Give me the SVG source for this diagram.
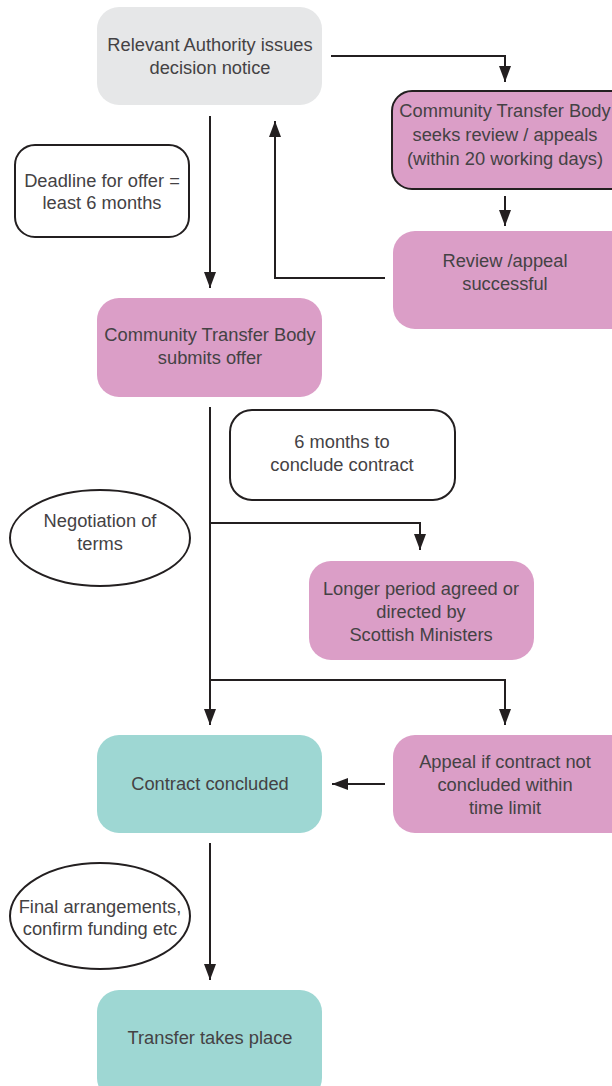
<svg xmlns="http://www.w3.org/2000/svg" width="612" height="1086" viewBox="0 0 612 1086">
<defs>
<marker id="arr" markerWidth="16" markerHeight="12" refX="16" refY="6" viewBox="0 0 16 12" markerUnits="userSpaceOnUse" orient="auto">
<path d="M0,0 L16,6 L0,12 Z" fill="#231f20"/>
</marker>
<style>
text{font-family:"Liberation Sans",Arial,sans-serif;font-size:18.3px;fill:#444244;text-anchor:middle}
.gray{fill:#e6e7e8}
.pink{fill:#db9ec7}
.teal{fill:#9ed7d3}
.out{stroke:#231f20;stroke-width:2}
.note{fill:#fff;stroke:#231f20;stroke-width:2}
.con{fill:none;stroke:#231f20;stroke-width:2}
</style>
</defs>
<rect width="612" height="1086" fill="#fff"/>
<g id="connectors">
<polyline class="con" points="331,56 505,56 505,82" marker-end="url(#arr)"/>
<line class="con" x1="505" y1="196" x2="505" y2="226" marker-end="url(#arr)"/>
<polyline class="con" points="385,278 275,278 275,121" marker-end="url(#arr)"/>
<line class="con" x1="210" y1="116" x2="210" y2="288" marker-end="url(#arr)"/>
<line class="con" x1="210" y1="407" x2="210" y2="725" marker-end="url(#arr)"/>
<polyline class="con" points="210,523 420,523 420,550" marker-end="url(#arr)"/>
<polyline class="con" points="210,680 505,680 505,725" marker-end="url(#arr)"/>
<line class="con" x1="385" y1="784" x2="332" y2="784" marker-end="url(#arr)"/>
<line class="con" x1="210" y1="843" x2="210" y2="980" marker-end="url(#arr)"/>
</g>
<g id="n-decision">
<rect class="gray" x="97" y="7" width="225" height="98" rx="22"/>
<text x="210" y="51">Relevant Authority issues</text>
<text x="210" y="74">decision notice</text>
</g>
<g id="n-review-seek">
<rect class="pink out" x="392" y="91" width="240" height="98" rx="20"/>
<text x="505" y="117">Community Transfer Body</text>
<text x="505" y="141">seeks review / appeals</text>
<text x="505" y="165">(within 20 working days)</text>
</g>
<g id="n-deadline">
<rect class="note" x="15" y="145" width="174" height="92" rx="20"/>
<text x="102" y="187">Deadline for offer =</text>
<text x="102" y="209">least 6 months</text>
</g>
<g id="n-review-success">
<rect class="pink" x="393" y="231" width="240" height="98" rx="22"/>
<text x="505" y="267">Review /appeal</text>
<text x="505" y="290">successful</text>
</g>
<g id="n-offer">
<rect class="pink" x="97" y="298" width="225" height="99" rx="22"/>
<text x="210" y="341">Community Transfer Body</text>
<text x="210" y="364">submits offer</text>
</g>
<g id="n-sixmonths">
<rect class="note" x="230" y="410" width="225" height="90" rx="22"/>
<text x="342" y="448">6 months to</text>
<text x="342" y="471">conclude contract</text>
</g>
<g id="n-negotiation">
<ellipse class="note" cx="100" cy="538" rx="90" ry="48"/>
<text x="100" y="527">Negotiation of</text>
<text x="100" y="550">terms</text>
</g>
<g id="n-longer">
<rect class="pink" x="309" y="561" width="225" height="99" rx="22"/>
<text x="421" y="595">Longer period agreed or</text>
<text x="421" y="618">directed by</text>
<text x="421" y="641">Scottish Ministers</text>
</g>
<g id="n-contract">
<rect class="teal" x="97" y="735" width="225" height="98" rx="22"/>
<text x="210" y="790">Contract concluded</text>
</g>
<g id="n-appeal">
<rect class="pink" x="393" y="735" width="240" height="98" rx="22"/>
<text x="505" y="768">Appeal if contract not</text>
<text x="505" y="791">concluded within</text>
<text x="505" y="814">time limit</text>
</g>
<g id="n-final">
<ellipse class="note" cx="100" cy="916" rx="90" ry="53"/>
<text x="100" y="913">Final arrangements,</text>
<text x="100" y="935">confirm funding etc</text>
</g>
<g id="n-transfer">
<rect class="teal" x="97" y="990" width="225" height="110" rx="22"/>
<text x="210" y="1044">Transfer takes place</text>
</g>
</svg>
